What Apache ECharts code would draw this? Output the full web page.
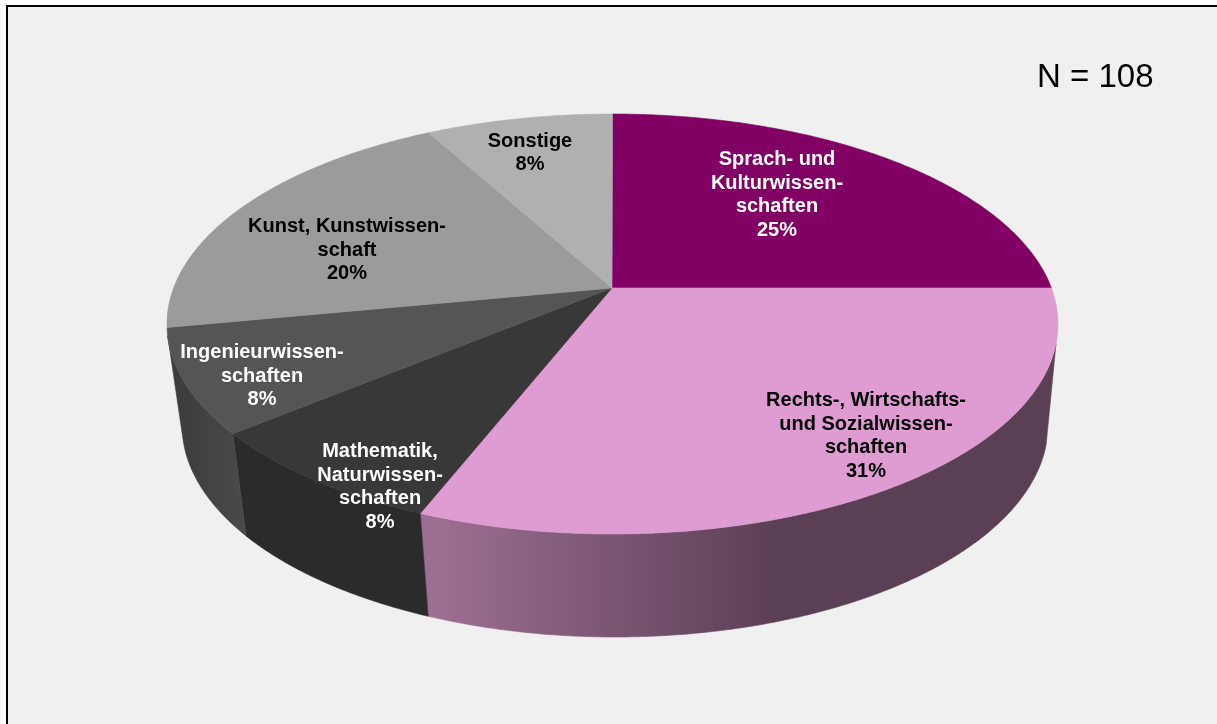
<!DOCTYPE html>
<html lang="de">
<head>
<meta charset="utf-8">
<title>Fachrichtungen</title>
<script src="https://cdn.jsdelivr.net/npm/echarts@6/dist/echarts.min.js"></script>
<style>
  html, body { margin: 0; padding: 0; background: #fff; }
  #chart { width: 1217px; height: 724px; }
</style>
</head>
<body>
<div id="chart"></div>
<script>
// Fächergruppen, Anteile in Prozent
const categories = [
  'Sprach- und\nKulturwissen-\nschaften',
  'Rechts-, Wirtschafts-\nund Sozialwissen-\nschaften',
  'Mathematik,\nNaturwissen-\nschaften',
  'Ingenieurwissen-\nschaften',
  'Kunst, Kunstwissen-\nschaft',
  'Sonstige'
];
const shares = [25, 31, 8, 8, 20, 8];
const sampleSize = 'N = 108';

const topColors = ['#820063', '#df9cd2', '#383838', '#555555', '#9b9b9b', '#b0b0b0'];
const labelColors = ['#ffffff', '#000000', '#ffffff', '#ffffff', '#000000', '#000000'];
const labelCentres = [[777, 195], [866, 436], [380, 487], [262, 376], [347, 250], [530, 153]];

// Perspective of the tilted disc: upper and lower rim ellipses and the hub
const TOP = { cx: 612.5, cy: 324, rx: 445.5, ry: 210 };
const BOTTOM = { cx: 615, cy: 425, rx: 433, ry: 212 };
const HUB = { x: 612, y: 288 };
const TILT = (HUB.y - TOP.cy) / TOP.ry;

function wallFill(i) {
  if (i === 1) {
    return new echarts.graphic.LinearGradient(434, 0, 1058, 0, [
      { offset: 0, color: '#9d6f93' },
      { offset: 0.55, color: '#5b3f55' },
      { offset: 1, color: '#5b3f55' }
    ], true);
  }
  if (i === 3) {
    return new echarts.graphic.LinearGradient(170, 0, 246, 0, [
      { offset: 0, color: '#3b3b3b' },
      { offset: 1, color: '#4a4a4a' }
    ], true);
  }
  if (i === 2) return '#2b2b2b';
  return '#3b3b3b';
}

// Unit-circle position of a share (percent, clockwise from 12 o'clock) seen in perspective
function rimUnit(pct) {
  const a = pct / 100 * 2 * Math.PI;
  const x = Math.sin(a);
  const y = -Math.cos(a);
  const d = 1 + TILT * y;
  return [x * Math.sqrt(1 - TILT * TILT) / d, (y + TILT) / d];
}

function onEllipse(e, p) {
  return [e.cx + e.rx * p[0], e.cy + e.ry * p[1]];
}

function sweep(start, end) {
  const pts = [];
  const n = Math.max(2, Math.ceil((end - start) * 10));
  for (let k = 0; k <= n; k++) pts.push(rimUnit(start + (end - start) * k / n));
  return pts;
}

const seriesData = shares.map((v, i) => [v, shares.slice(0, i).reduce((s, x) => s + x, 0)]);

function renderWall(params, api) {
  const share = api.value(0);
  const start = api.value(1);
  // Only the near half of the rim shows a wall
  const front = sweep(start, start + share).filter(p => p[1] >= (p[0] > 0 ? 0.09 : 0.052));
  if (front.length < 2) return null;
  const upper = front.map(p => onEllipse(TOP, p));
  const lower = front.map(p => onEllipse(BOTTOM, p)).reverse();
  const fill = wallFill(params.dataIndex);
  return {
    type: 'polygon',
    shape: { points: upper.concat(lower) },
    style: { fill: fill, stroke: fill, lineWidth: 0.6 }
  };
}

function renderTop(params, api) {
  const i = params.dataIndex;
  const share = api.value(0);
  const start = api.value(1);
  const pts = [[HUB.x, HUB.y]].concat(sweep(start, start + share).map(p => onEllipse(TOP, p)));
  return {
    type: 'group',
    children: [
      {
        type: 'polygon',
        shape: { points: pts },
        style: { fill: topColors[i], stroke: topColors[i], lineWidth: 0.6 }
      },
      {
        type: 'text',
        z2: 100,
        style: {
          text: categories[i] + '\n' + share + '%',
          x: labelCentres[i][0],
          y: labelCentres[i][1],
          fill: labelColors[i],
          font: 'bold 20px "Liberation Sans", Arial, sans-serif',
          lineHeight: 23.5,
          align: 'center',
          verticalAlign: 'middle'
        }
      }
    ]
  };
}

const chart = echarts.init(document.getElementById('chart'), null, { renderer: 'canvas' });
chart.setOption({
  animation: false,
  backgroundColor: '#ffffff',
  tooltip: { show: false },
  graphic: [
    {
      type: 'rect',
      z: 0,
      silent: true,
      shape: { x: 7, y: 6, width: 1300, height: 800 },
      style: { fill: '#f0f0f0', stroke: '#000000', lineWidth: 2 }
    },
    {
      type: 'text',
      z: 5,
      silent: true,
      style: {
        text: sampleSize,
        x: 1037,
        y: 78,
        fill: '#000000',
        font: '33px "Liberation Sans", Arial, sans-serif',
        align: 'left',
        verticalAlign: 'middle'
      }
    }
  ],
  series: [
    { type: 'custom', coordinateSystem: 'none', z: 2, silent: true, data: seriesData, renderItem: renderWall },
    { type: 'custom', coordinateSystem: 'none', z: 3, silent: true, data: seriesData, renderItem: renderTop }
  ]
});
</script>
</body>
</html>
